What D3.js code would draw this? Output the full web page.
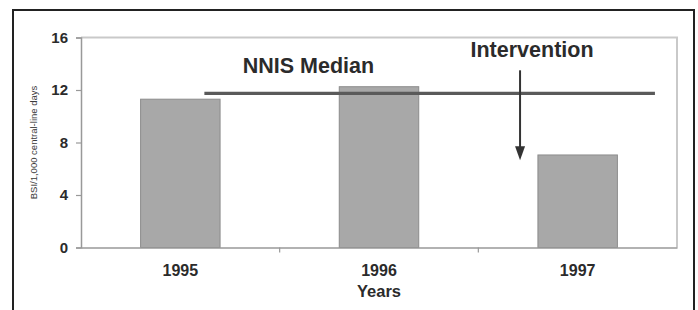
<!DOCTYPE html>
<html>
<head>
<meta charset="utf-8">
<script src="https://cdn.jsdelivr.net/npm/d3@7"></script>
<style>
  html, body { margin: 0; padding: 0; background: #fff; }
  svg { display: block; font-family: "Liberation Sans", Arial, sans-serif; }
</style>
</head>
<body>
<svg id="chart" width="698" height="310"></svg>
<script>
// ---- data ----
const years = ["1995", "1996", "1997"];
const bsiRates = [11.3, 12.25, 7.05];
const nnisMedian = 11.75;
const yTicks = [0, 4, 8, 12, 16];
const yTitle = "BSI/1,000 central-line days";
const xTitle = "Years";
const medianLabel = "NNIS Median";
const interventionLabel = "Intervention";
const arrowFrom = 13.5, arrowTo = 6.65;

// ---- layout ----
const W = 698, H = 310;
const plot = { left: 81, right: 677, top: 37.5, bottom: 247.5 };
const svg = d3.select("#chart");
const textColor = "#2b2b2b";

// outer frame (continues past bottom edge)
svg.append("path")
  .attr("d", `M13,${H + 5} V10 H694 V${H + 5}`)
  .attr("fill", "none").attr("stroke", "#222").attr("stroke-width", 2);

const x = d3.scaleBand().domain(years).range([plot.left, plot.right])
  .paddingInner(0.6).paddingOuter(0.3);
const y = d3.scaleLinear().domain([0, 16]).range([plot.bottom, plot.top]);

// plot area top/right border
svg.append("path")
  .attr("d", `M${plot.left},${plot.top} H${plot.right} V${plot.bottom}`)
  .attr("fill", "none").attr("stroke", "#c9c9c9").attr("stroke-width", 2);

// bars
svg.append("g").selectAll("rect").data(years).join("rect")
  .attr("x", d => x(d))
  .attr("width", x.bandwidth())
  .attr("y", (d, i) => y(bsiRates[i]))
  .attr("height", (d, i) => y(0) - y(bsiRates[i]))
  .attr("fill", "#a8a8a8")
  .attr("stroke", "#8c8c8c").attr("stroke-width", 1);

// y axis
const yAxis = svg.append("g").attr("transform", `translate(${plot.left},0)`)
  .call(d3.axisLeft(y).tickValues(yTicks).tickSize(5).tickPadding(8).tickFormat(d3.format("d")));
yAxis.select(".domain").attr("stroke", "#999").attr("stroke-width", 1.5);
yAxis.selectAll(".tick line").attr("stroke", "#999").attr("stroke-width", 1.2);
yAxis.selectAll(".tick text")
  .attr("fill", textColor).attr("font-size", 15).attr("font-weight", "bold")
  .attr("font-family", "Liberation Sans, Arial, sans-serif");

// x axis: line + boundary ticks
const xAxis = svg.append("g").attr("transform", `translate(0,${plot.bottom})`)
  .call(d3.axisBottom(x).tickSize(0).tickPadding(17));
xAxis.select(".domain").attr("stroke", "#999").attr("stroke-width", 1.5);
xAxis.selectAll(".tick text")
  .attr("fill", textColor).attr("font-size", 16).attr("font-weight", "bold")
  .attr("font-family", "Liberation Sans, Arial, sans-serif");
const boundaries = years.slice(1).map(d => x(d) - x.step() * x.paddingInner() / 2);
xAxis.selectAll(".bnd").data(boundaries).join("line")
  .attr("class", "bnd")
  .attr("x1", d => d).attr("x2", d => d)
  .attr("y1", 0).attr("y2", 5)
  .attr("stroke", "#999").attr("stroke-width", 1.2);

// x title
svg.append("text")
  .attr("x", x(years[1]) + x.bandwidth() / 2).attr("y", 297)
  .attr("text-anchor", "middle").attr("fill", textColor)
  .attr("font-size", 16.5).attr("font-weight", "bold")
  .text(xTitle);

// y title
svg.append("text")
  .attr("transform", `translate(37,${(plot.top + plot.bottom) / 2}) rotate(-90)`)
  .attr("text-anchor", "middle").attr("fill", "#3a3a3a")
  .attr("font-size", 9.5)
  .text(yTitle);

// NNIS median line
const span = plot.right - plot.left;
svg.append("line")
  .attr("x1", plot.left + span * 0.207).attr("x2", plot.left + span * 0.963)
  .attr("y1", y(nnisMedian)).attr("y2", y(nnisMedian))
  .attr("stroke", "#5a5a5a").attr("stroke-width", 3.2);

svg.append("text")
  .attr("x", x(years[1]) - x.step() * 0.155).attr("y", 73)
  .attr("text-anchor", "middle").attr("fill", textColor)
  .attr("font-size", 21.5).attr("font-weight", "bold")
  .text(medianLabel);

// intervention arrow
const ax = x(years[2]) - x.step() * 0.09;
svg.append("line")
  .attr("x1", ax).attr("x2", ax)
  .attr("y1", y(arrowFrom)).attr("y2", y(arrowTo) - 12)
  .attr("stroke", "#333").attr("stroke-width", 2);
svg.append("path")
  .attr("d", `M${ax - 5},${y(arrowTo) - 14} L${ax + 5},${y(arrowTo) - 14} L${ax},${y(arrowTo)} Z`)
  .attr("fill", "#333");

svg.append("text")
  .attr("x", ax + 12).attr("y", 57)
  .attr("text-anchor", "middle").attr("fill", textColor)
  .attr("font-size", 21.5).attr("font-weight", "bold")
  .text(interventionLabel);
</script>
</body>
</html>
